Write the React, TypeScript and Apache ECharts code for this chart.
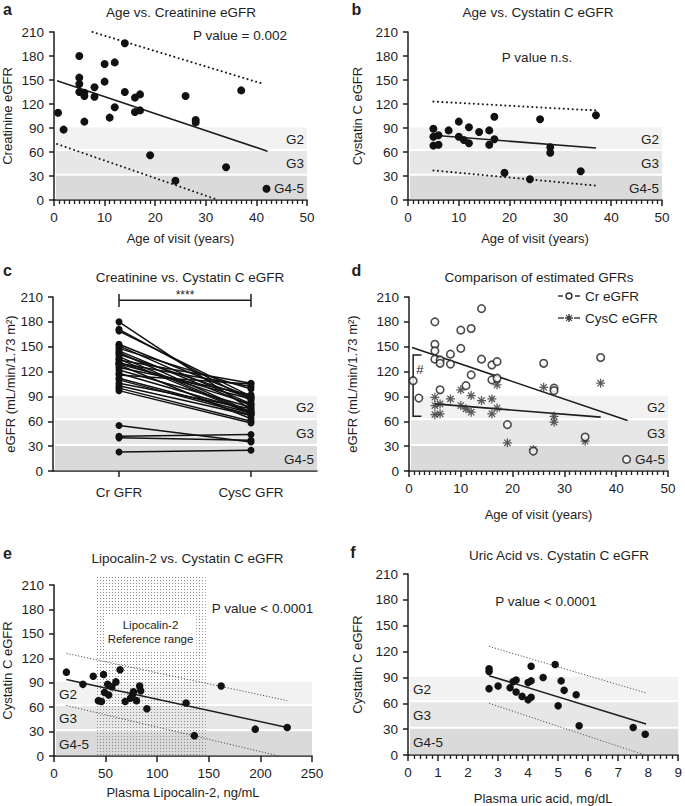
import React, { useEffect, useRef } from 'react';
import * as echarts from 'echarts';

const FONT = '"Liberation Sans", Arial, Helvetica, sans-serif';
const INK = '#1e1e1e';

// ---- Panel a / d : age at visit vs creatinine eGFR
const ageCr = [0.8, 1.9, 5, 5, 5, 5, 6, 6, 6, 8, 8, 10, 10, 11, 12, 12, 14, 14, 16, 16, 17, 17, 19, 24, 26, 28, 28, 34, 37, 42];
const crEgfr = [109, 88, 180, 153, 145, 135, 134, 130, 98, 141, 129, 170, 148, 103, 172, 116, 196, 135, 128, 110, 132, 112, 56, 24, 130, 100, 97, 41, 137, 14];

// ---- Panel b / d : age at visit vs cystatin C eGFR
const ageCys = [5, 5, 5, 6, 6, 8, 10, 10, 11, 12, 12, 14, 16, 16, 17, 17, 19, 24, 26, 28, 28, 34, 37];
const cysEgfr = [89, 79, 68, 81, 69, 87, 98, 79, 75, 91, 71, 85, 87, 69, 104, 76, 34, 26, 101, 66, 59, 36, 106];

// ---- Panel c : paired creatinine / cystatin C eGFR
const pairCategories = ['Cr GFR', 'CysC GFR'];
const pairCr = [180, 171, 169, 153, 151, 148, 145, 143, 141, 138, 135, 134, 131, 130, 129, 128, 125, 122, 118, 116, 112, 110, 106, 103, 100, 97, 55, 42, 40, 23];
const pairCys = [74, 85, 90, 89, 81, 99, 79, 71, 88, 70, 69, 106, 81, 102, 87, 63, 92, 77, 72, 105, 70, 68, 75, 67, 60, 58, 35, 44, 37, 25];
const sigBracket = [206, 213.5, 198]; // bar level, tick top, tick bottom

// ---- Panel e : plasma lipocalin-2 vs cystatin C eGFR
const lcn2 = [12, 28, 38, 48, 64, 52, 56, 60, 49, 53, 43, 46, 69, 74, 76, 77, 80, 83, 84, 90, 128, 136, 162, 195, 226];
const cysLcn2 = [103, 88, 98, 100, 106, 88, 85, 91, 78, 75, 68, 67, 67, 71, 75, 79, 68, 86, 80, 58, 65, 25, 86, 33, 35];
const lcn2RefRange = [40, 147, 220]; // low, high, drawn top
const refLabelAt = [93.5, 152];

// ---- Panel f : plasma uric acid vs cystatin C eGFR
const uricAcid = [2.7, 2.7, 2.7, 3.0, 3.4, 3.5, 3.6, 3.6, 3.8, 4.0, 4.1, 4.0, 4.1, 4.1, 4.5, 4.9, 5.1, 5.2, 5.6, 5.0, 5.7, 7.5, 7.9];
const cysUric = [100, 97, 77, 80, 78, 85, 87, 73, 68, 64, 67, 84, 86, 103, 90, 105, 86, 75, 70, 57, 34, 32, 24];

// ---- regression lines and bands (end points)
const aFit = [[0.6, 149], [42.2, 61]];
const aUpper = [[7.6, 210], [41.4, 145]];
const aLower = [[0.6, 70], [32, 1]];
const bFit = [[5, 81], [37, 65]];
const bUpper = [[5, 123], [37, 112]];
const bLower = [[5, 37], [37, 18]];
const eFit = [[12, 94], [226, 35]];
const eUpper = [[12, 126], [226, 68]];
const eLower = [[12, 62], [218, 0]];
const fFit = [[2.7, 92], [7.93, 36]];
const fUpper = [[2.7, 126], [7.93, 72]];
const fLower = [[2.7, 60], [7.88, 0]];
const hashBracket = [0.8, 2.4, 140, 66];
const hashMarkAt = [2.1, 122];

// ---- CKD stage bands
const ckdBands = ['G2', 'G3', 'G4-5'];
const bandLow = [62.5, 31.5, 0];
const bandHigh = [92, 62.5, 31.5];
const bandColors = ['#f2f2f2', '#e7e7e7', '#dadada'];

const grids = [
  { left: 54, top: 32, width: 253, height: 168 },
  { left: 408, top: 32, width: 254, height: 168 },
  { left: 53, top: 297, width: 264, height: 174 },
  { left: 409, top: 297, width: 259, height: 174 },
  { left: 53, top: 585, width: 259, height: 171 },
  { left: 408, top: 574, width: 273, height: 181 },
];

const crLegendIcon = 'path://M0,4.2H5V5.8H0Z M17,4.2H22V5.8H17Z M11,1.3A3.7,3.7 0 1,1 11,8.7A3.7,3.7 0 1,1 11,1.3Z M11,2.8A2.2,2.2 0 1,0 11,7.2A2.2,2.2 0 1,0 11,2.8Z';
const cysLegendIcon = 'path://M0,4.3H6V5.7H0Z M16,4.3H22V5.7H16Z M10.3,1H11.7V9H10.3Z M7,4.3H15V5.7H7Z M8.51,1.67L14.33,7.49L13.49,8.33L7.67,2.51Z M13.49,1.67L14.33,2.51L8.51,8.33L7.67,7.49Z';
const asteriskSymbol = 'path://M4.3,0H5.7V10H4.3Z M0,4.3H10V5.7H0Z M1.99,0.99L9.01,8.01L8.01,9.01L0.99,1.99Z M8.01,0.99L9.01,1.99L1.99,9.01L0.99,8.01Z';

function valueX(i: number, min: number, max: number, interval: number, name: string, nameGap: number, minorSplit: number) {
  return {
    gridIndex: i, type: 'value', min, max, interval, name, nameLocation: 'middle', nameGap,
    nameTextStyle: { fontSize: 13, fontFamily: FONT, color: INK },
    axisLine: { show: true, lineStyle: { color: INK, width: 1.5 } },
    axisTick: { show: true, length: 6, lineStyle: { color: INK, width: 1.5 } },
    minorTick: { show: minorSplit > 0, splitNumber: minorSplit || 5, length: 4, lineStyle: { color: INK, width: 1.3 } },
    axisLabel: { fontSize: 13.5, fontFamily: FONT, color: INK, margin: 10 },
    splitLine: { show: false },
  };
}

function valueY(i: number, name: string, nameGap: number) {
  return {
    gridIndex: i, type: 'value', min: 0, max: 210, interval: 30, name, nameLocation: 'middle', nameGap,
    nameTextStyle: { fontSize: 13, fontFamily: FONT, color: INK },
    axisLine: { show: true, lineStyle: { color: INK, width: 1.5 } },
    axisTick: { show: true, length: 5, lineStyle: { color: INK, width: 1.5 } },
    axisLabel: { fontSize: 13.5, fontFamily: FONT, color: INK, margin: 10 },
    splitLine: { show: false },
  };
}

function bandSeries(i: number, side: string) {
  return {
    type: 'custom', xAxisIndex: i, yAxisIndex: i, z: 1, silent: true,
    data: ckdBands.map(() => [0]),
    renderItem: (params: any, api: any) => {
      const k = params.dataIndex;
      const cs = params.coordSys;
      const yTop = api.coord([0, bandHigh[k]])[1];
      const yBot = api.coord([0, bandLow[k]])[1];
      const top = yTop + 1;
      const bottom = bandLow[k] > 0 ? yBot - 1 : yBot - 0.8;
      const x0 = cs.x + 2;
      const x1 = cs.x + cs.width;
      return {
        type: 'group',
        children: [
          { type: 'rect', shape: { x: x0, y: top, width: x1 - x0, height: bottom - top }, style: { fill: bandColors[k] } },
          {
            type: 'text', x: side === 'right' ? x1 - 3 : x0 + 3, y: (top + bottom) / 2 + 1,
            style: { text: ckdBands[k], fill: INK, fontSize: 13.5, fontFamily: FONT, align: side, verticalAlign: 'middle' },
          },
        ],
      };
    },
  };
}

function line(i: number, data: number[][], kind: string) {
  let lineStyle: any = { color: INK, width: 1.6 };
  if (kind === 'ci') lineStyle = { color: INK, width: 2, type: [0.1, 4.4], cap: 'round' };
  if (kind === 'fine') lineStyle = { color: '#555', width: 1, type: [1.2, 1.8] };
  return { type: 'line', xAxisIndex: i, yAxisIndex: i, data, symbol: 'none', silent: true, z: 3, lineStyle };
}

function dots(i: number, xs: number[], ys: number[], size: number) {
  return {
    type: 'scatter', xAxisIndex: i, yAxisIndex: i, z: 4, symbol: 'circle', symbolSize: size,
    data: xs.map((x, k) => [x, ys[k]]), itemStyle: { color: '#111', opacity: 1 },
  };
}

function label(text: string, x: number, y: number, size: number, bold?: boolean, align?: string) {
  return {
    type: 'text', x, y,
    style: { text, fontSize: size, fontFamily: FONT, fontWeight: bold ? 'bold' : 'normal', fill: INK, align: align || 'center', verticalAlign: 'middle' },
  };
}

export default function App() {
  const ref = useRef<HTMLDivElement>(null);
  useEffect(() => {
    document.body.style.margin = '0';
    const chart = echarts.init(ref.current as HTMLDivElement, null, { renderer: 'svg' });

    const dotCanvas = document.createElement('canvas');
    dotCanvas.width = 3;
    dotCanvas.height = 3;
    const ctx = dotCanvas.getContext('2d');
    if (ctx) {
      ctx.fillStyle = '#8a8a8a';
      ctx.fillRect(1, 1, 1, 1);
    }
    const dotPattern = { image: dotCanvas.toDataURL(), repeat: 'repeat', imageWidth: 3, imageHeight: 3 };

    const series: any[] = [];
    // bands
    series.push(bandSeries(0, 'right'), bandSeries(1, 'right'), bandSeries(2, 'right'), bandSeries(3, 'right'), bandSeries(4, 'left'), bandSeries(5, 'left'));

    // panel a
    series.push(line(0, aUpper, 'ci'), line(0, aLower, 'ci'), line(0, aFit, 'fit'), dots(0, ageCr, crEgfr, 8));
    // panel b
    series.push(line(1, bUpper, 'ci'), line(1, bLower, 'ci'), line(1, bFit, 'fit'), dots(1, ageCys, cysEgfr, 8));
    // panel c
    pairCr.forEach((v, k) => {
      series.push({
        type: 'line', xAxisIndex: 2, yAxisIndex: 2, z: 4, data: [v, pairCys[k]], symbol: 'circle', symbolSize: 7,
        showSymbol: true, lineStyle: { color: '#111', width: 1.5 }, itemStyle: { color: '#111' }, silent: true,
      });
    });
    series.push({
      type: 'custom', xAxisIndex: 2, yAxisIndex: 2, z: 4, silent: true, data: [[0, sigBracket[0]]],
      renderItem: (params: any, api: any) => {
        const l = api.coord([0, sigBracket[0]]);
        const r = api.coord([1, sigBracket[0]]);
        const t = api.coord([0, sigBracket[1]])[1];
        const b = api.coord([0, sigBracket[2]])[1];
        const s = { stroke: INK, lineWidth: 1.5 };
        return {
          type: 'group',
          children: [
            { type: 'line', shape: { x1: l[0], y1: l[1], x2: r[0], y2: r[1] }, style: s },
            { type: 'line', shape: { x1: l[0], y1: t, x2: l[0], y2: b }, style: s },
            { type: 'line', shape: { x1: r[0], y1: t, x2: r[0], y2: b }, style: s },
            { type: 'text', x: (l[0] + r[0]) / 2, y: t + 1, style: { text: '****', fontSize: 12, fontFamily: FONT, fill: INK, align: 'center', verticalAlign: 'middle' } },
          ],
        };
      },
    });
    // panel d
    series.push(line(3, aFit, 'fit'), line(3, bFit, 'fit'));
    series.push({
      name: 'CysC eGFR', type: 'scatter', xAxisIndex: 3, yAxisIndex: 3, z: 4, symbol: asteriskSymbol, symbolSize: 9,
      data: ageCys.map((x, k) => [x, cysEgfr[k]]), itemStyle: { color: '#333333' },
    });
    series.push({
      name: 'Cr eGFR', type: 'scatter', xAxisIndex: 3, yAxisIndex: 3, z: 4, symbol: 'circle', symbolSize: 7.5,
      data: ageCr.map((x, k) => [x, crEgfr[k]]), itemStyle: { color: '#ffffff', borderColor: INK, borderWidth: 1.6 },
    });
    series.push({
      type: 'custom', xAxisIndex: 3, yAxisIndex: 3, z: 4, silent: true, data: [[hashBracket[0], hashBracket[2]]],
      renderItem: (params: any, api: any) => {
        const a = api.coord([hashBracket[1], hashBracket[2]]);
        const b = api.coord([hashBracket[0], hashBracket[2]]);
        const c = api.coord([hashBracket[0], hashBracket[3]]);
        const d = api.coord([hashBracket[1], hashBracket[3]]);
        const t = api.coord(hashMarkAt);
        return {
          type: 'group',
          children: [
            { type: 'polyline', shape: { points: [a, b, c, d] }, style: { stroke: INK, lineWidth: 1.5, fill: null } },
            { type: 'text', x: t[0], y: t[1], style: { text: '#', fontSize: 13, fontFamily: FONT, fill: INK, align: 'center', verticalAlign: 'middle' } },
          ],
        };
      },
    });
    // panel e
    series.push({
      type: 'custom', xAxisIndex: 4, yAxisIndex: 4, z: 2, silent: true, data: [[lcn2RefRange[0], lcn2RefRange[1]]],
      renderItem: (params: any, api: any) => {
        const p0 = api.coord([lcn2RefRange[0], lcn2RefRange[2]]);
        const p1 = api.coord([lcn2RefRange[1], 0]);
        const tp = api.coord(refLabelAt);
        return {
          type: 'group',
          children: [
            { type: 'rect', shape: { x: p0[0], y: p0[1], width: p1[0] - p0[0], height: p1[1] - p0[1] }, style: { fill: dotPattern } },
            {
              type: 'text', x: tp[0], y: tp[1],
              style: { text: 'Lipocalin-2\nReference range', fontSize: 11.5, lineHeight: 14.5, fontFamily: FONT, fill: INK, align: 'center', verticalAlign: 'middle', backgroundColor: '#ffffff', padding: [3, 3] },
            },
          ],
        };
      },
    });
    series.push(line(4, eUpper, 'fine'), line(4, eLower, 'fine'), line(4, eFit, 'fit'), dots(4, lcn2, cysLcn2, 7.5));
    // panel f
    series.push(line(5, fUpper, 'fine'), line(5, fLower, 'fine'), line(5, fFit, 'fit'), dots(5, uricAcid, cysUric, 7.5));

    const option: any = {
      animation: false,
      backgroundColor: '#ffffff',
      textStyle: { fontFamily: FONT },
      grid: grids.map((g) => ({ ...g, containLabel: false })),
      xAxis: [
        valueX(0, 0, 50, 10, 'Age of visit (years)', 32, 10),
        valueX(1, 0, 50, 10, 'Age of visit (years)', 32, 10),
        {
          gridIndex: 2, type: 'category', data: pairCategories, boundaryGap: true,
          axisLine: { show: true, lineStyle: { color: INK, width: 1.5 } },
          axisTick: { show: true, alignWithLabel: true, length: 6, lineStyle: { color: INK, width: 1.5 } },
          axisLabel: { fontSize: 13.5, fontFamily: FONT, color: INK, margin: 14 },
        },
        valueX(3, 0, 50, 10, 'Age of visit (years)', 37, 10),
        valueX(4, 0, 250, 50, 'Plasma Lipocalin-2, ng/mL', 30, 0),
        valueX(5, 0, 9, 1, 'Plasma uric acid, mg/dL', 37, 5),
      ],
      yAxis: [
        valueY(0, 'Creatinine eGFR', 40),
        valueY(1, 'Cystatin C eGFR', 44),
        valueY(2, 'eGFR (mL/min/1.73 m²)', 34),
        valueY(3, 'eGFR (mL/min/1.73 m²)', 50),
        valueY(4, 'Cystatin C eGFR', 40),
        valueY(5, 'Cystatin C eGFR', 44),
      ],
      legend: {
        data: [
          { name: 'Cr eGFR', icon: crLegendIcon, itemStyle: { color: '#000', borderWidth: 0 } },
          { name: 'CysC eGFR', icon: cysLegendIcon, itemStyle: { color: '#111', borderWidth: 0 } },
        ],
        orient: 'vertical', left: 558, top: 289, itemWidth: 22, itemHeight: 10, itemGap: 8, padding: 0,
        selectedMode: false, textStyle: { fontSize: 13.5, fontFamily: FONT, color: INK },
      },
      graphic: [
        label('a', 7.5, 9, 16, true),
        label('b', 356.5, 9, 16, true),
        label('c', 7.5, 270, 16, true),
        label('d', 356.5, 270, 16, true),
        label('e', 7.5, 553, 16, true),
        label('f', 353, 552, 16, true),
        label('Age vs. Creatinine eGFR', 181, 12, 13.5),
        label('Age vs. Cystatin C eGFR', 538, 12, 13.5),
        label('Creatinine vs. Cystatin C eGFR', 190, 277, 13.5),
        label('Comparison of estimated GFRs', 539, 277, 13.5),
        label('Lipocalin-2 vs. Cystatin C eGFR', 187.5, 558, 13.5),
        label('Uric Acid vs. Cystatin C eGFR', 559, 555, 13.5),
        label('P value = 0.002', 240, 35, 13.5),
        label('P value n.s.', 537, 57, 13.5),
        label('P value < 0.0001', 262.5, 608, 13.5),
        label('P value < 0.0001', 546, 601, 13.5),
      ],
      series,
    };
    chart.setOption(option);
    return () => chart.dispose();
  }, []);
  return <div ref={ref} style={{ width: 685, height: 806 }} />;
}
